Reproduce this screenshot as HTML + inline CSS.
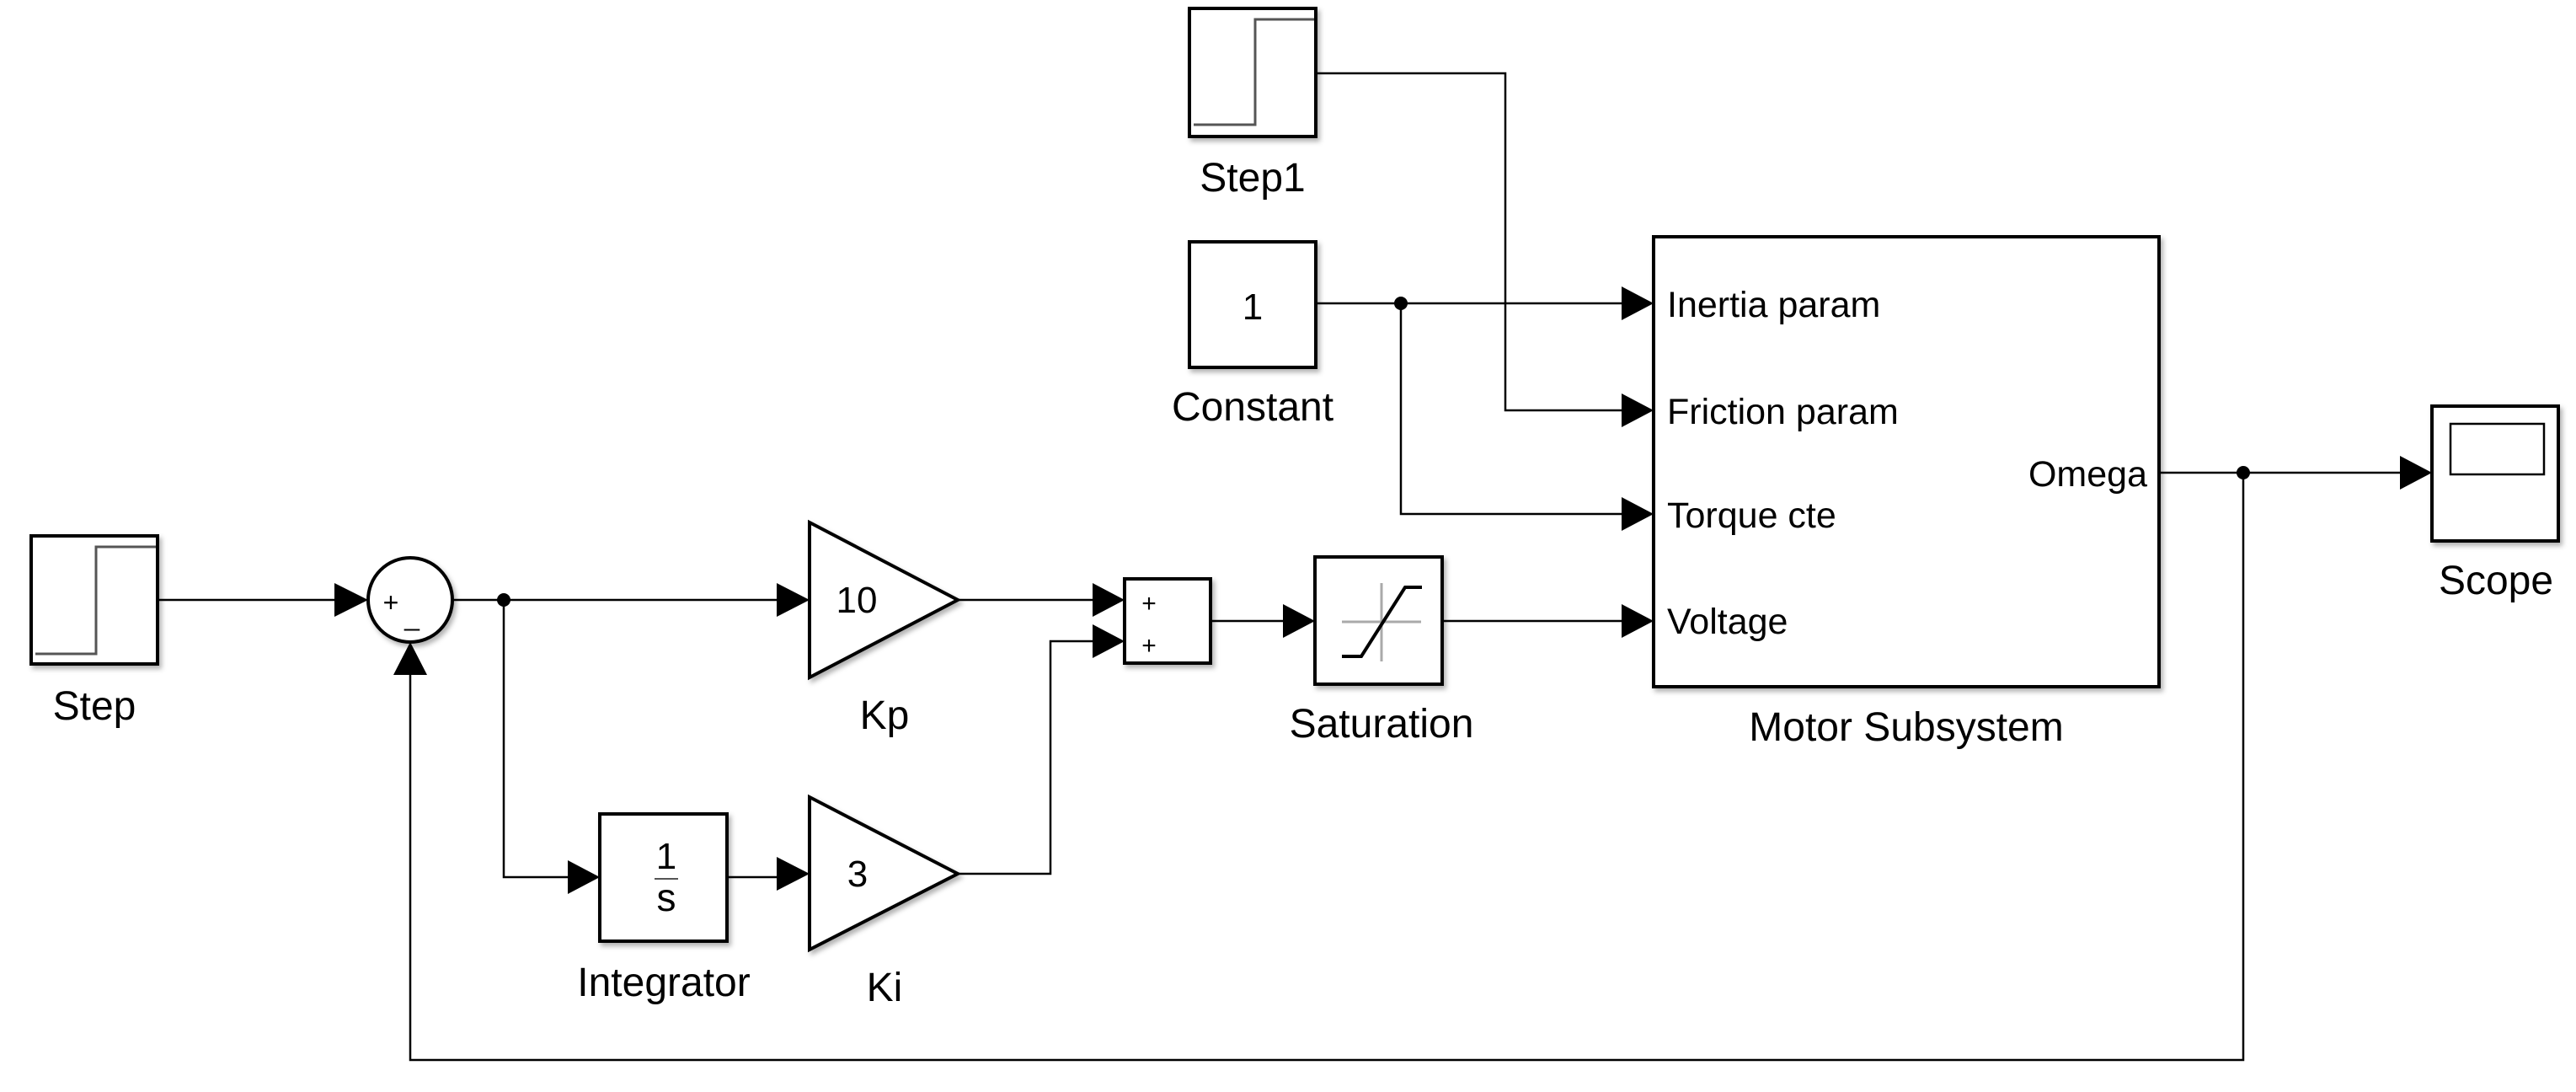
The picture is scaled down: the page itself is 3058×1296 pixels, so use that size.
<!DOCTYPE html>
<html><head><meta charset="utf-8"><style>
html,body{margin:0;padding:0;background:#fff;}
svg{display:block;}
text{font-family:"Liberation Sans",Arial,sans-serif;fill:#000;}
</style></head><body>
<svg width="3058" height="1296" viewBox="0 0 3058 1296" xmlns="http://www.w3.org/2000/svg">
<defs>
<filter id="sh" x="-10%" y="-10%" width="130%" height="130%">
<feDropShadow dx="3" dy="4" stdDeviation="3" flood-color="#000" flood-opacity="0.3"/>
</filter>
</defs>
<g fill="#fff" stroke="#000" stroke-width="4" filter="url(#sh)">
<rect x="37" y="636" width="150" height="152"/>
<circle cx="487" cy="712" r="50"/>
<polygon points="961,620 961,804 1137,712"/>
<rect x="712" y="966" width="151" height="151"/>
<polygon points="961,946 961,1127 1137,1037"/>
<rect x="1335" y="687" width="102" height="100"/>
<rect x="1561" y="661" width="151" height="151"/>
<rect x="1963" y="281" width="600" height="534"/>
<rect x="1412" y="10" width="150" height="152"/>
<rect x="1412" y="287" width="150" height="149"/>
<rect x="2887" y="482" width="150" height="160"/>
</g>
<!-- step icons -->
<polyline points="42,776 114,776 114,649 185,649" fill="none" stroke="#555" stroke-width="3"/>
<polyline points="1417,148 1490,148 1490,23 1560,23" fill="none" stroke="#555" stroke-width="3"/>
<!-- saturation icon -->
<line x1="1593" y1="738" x2="1687" y2="738" stroke="#aaa" stroke-width="3"/>
<line x1="1640" y1="692" x2="1640" y2="785" stroke="#aaa" stroke-width="3"/>
<polyline points="1593,779 1616,779 1668,697 1688,697" fill="none" stroke="#000" stroke-width="4"/>
<!-- scope screen -->
<rect x="2909" y="503" width="111" height="60" fill="none" stroke="#000" stroke-width="2.5"/>
<!-- connectors -->
<g fill="none" stroke="#000" stroke-width="2.5">
<line x1="187" y1="712" x2="400" y2="712"/>
<line x1="537" y1="712" x2="922" y2="712"/>
<polyline points="598,712 598,1041 674,1041"/>
<line x1="863" y1="1041" x2="922" y2="1041"/>
<line x1="1137" y1="712" x2="1297" y2="712"/>
<polyline points="1137,1037 1247,1037 1247,761 1297,761"/>
<line x1="1437" y1="737" x2="1523" y2="737"/>
<line x1="1712" y1="737" x2="1925" y2="737"/>
<line x1="1562" y1="360" x2="1925" y2="360"/>
<polyline points="1663,360 1663,610 1925,610"/>
<polyline points="1562,87 1787,87 1787,487 1925,487"/>
<line x1="2563" y1="561" x2="2849" y2="561"/>
<polyline points="2663,561 2663,1258 487,1258 487,800"/>
</g>
<!-- arrowheads -->
<g fill="#000">
<polygon points="397,692 437,712 397,732"/>
<polygon points="922,692 961,712 922,732"/>
<polygon points="674,1021 712,1041 674,1061"/>
<polygon points="922,1017 961,1037 922,1057"/>
<polygon points="1297,692 1335,712 1297,732"/>
<polygon points="1297,741 1335,761 1297,781"/>
<polygon points="1523,717 1561,737 1523,757"/>
<polygon points="1925,340 1963,360 1925,380"/>
<polygon points="1925,467 1963,487 1925,507"/>
<polygon points="1925,590 1963,610 1925,630"/>
<polygon points="1925,717 1963,737 1925,757"/>
<polygon points="2849,541 2887,561 2849,581"/>
<polygon points="467,801 487,762 507,801"/>
<circle cx="598" cy="712" r="8"/>
<circle cx="1663" cy="360" r="8"/>
<circle cx="2663" cy="561" r="8"/>
</g>
<!-- block inner text -->
<text x="464" y="726" font-size="32" text-anchor="middle">+</text>
<text x="489" y="742" font-size="32" text-anchor="middle">_</text>
<text x="1364" y="726" font-size="30" text-anchor="middle">+</text>
<text x="1364" y="776" font-size="30" text-anchor="middle">+</text>
<text x="1017" y="727" font-size="44" text-anchor="middle">10</text>
<text x="1018" y="1052" font-size="44" text-anchor="middle">3</text>
<text x="791" y="1031" font-size="44" text-anchor="middle">1</text>
<line x1="777" y1="1043" x2="805" y2="1043" stroke="#555" stroke-width="2"/>
<text x="791" y="1081" font-size="46" text-anchor="middle">s</text>
<text x="1487" y="379" font-size="44" text-anchor="middle">1</text>
<!-- port labels -->
<g font-size="43">
<text x="1979" y="376">Inertia param</text>
<text x="1979" y="503">Friction param</text>
<text x="1979" y="626">Torque cte</text>
<text x="1979" y="752">Voltage</text>
<text x="2549" y="577" text-anchor="end">Omega</text>
</g>
<!-- block names -->
<g font-size="48" text-anchor="middle">
<text x="112" y="854">Step</text>
<text x="788" y="1182">Integrator</text>
<text x="1050" y="865">Kp</text>
<text x="1050" y="1188">Ki</text>
<text x="1640" y="875">Saturation</text>
<text x="1487" y="227">Step1</text>
<text x="1487" y="499">Constant</text>
<text x="2263" y="879">Motor Subsystem</text>
<text x="2963" y="705">Scope</text>
</g>
</svg>
</body></html>
